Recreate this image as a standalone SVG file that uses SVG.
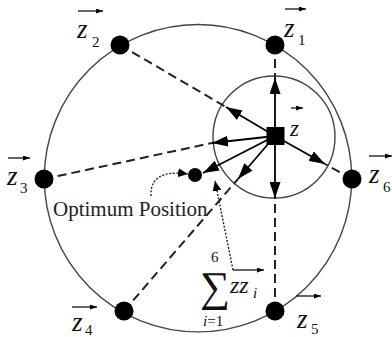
<svg xmlns="http://www.w3.org/2000/svg" width="392" height="337" viewBox="0 0 392 337">
<defs>
<marker id="ah" markerUnits="userSpaceOnUse" markerWidth="17" markerHeight="11" refX="16" refY="5.5" orient="auto"><path d="M0,0 L16,5.5 L0,11 z" fill="#000"/></marker>
<marker id="sm" markerUnits="userSpaceOnUse" markerWidth="7" markerHeight="5" refX="7" refY="2.5" orient="auto"><path d="M0,0 L7,2.5 L0,5 z" fill="#000"/></marker>
<marker id="dh" markerUnits="userSpaceOnUse" markerWidth="11" markerHeight="9" refX="10" refY="4.5" orient="auto"><path d="M0,0 L10,4.5 L0,9 z" fill="#000"/></marker>
<style>
.ring{fill:none;stroke:#444;stroke-width:1.4}
.dash{fill:none;stroke:#222;stroke-width:2;stroke-dasharray:9 5}
.arr{fill:none;stroke:#000;stroke-width:1.8;marker-end:url(#ah)}
.bar{fill:none;stroke:#000;stroke-width:1.2;marker-end:url(#sm)}
.dot{fill:none;stroke:#222;stroke-width:1.4;stroke-dasharray:2 1.6}
.node{fill:#000}
.zi{font-family:"Liberation Serif",serif;font-style:italic;font-size:27px;fill:#111}
.sub{font-family:"Liberation Serif",serif;font-size:15px;fill:#111}
.lbl{font-family:"Liberation Serif",serif;font-size:21px;fill:#222}
</style>
</defs>
<circle class="ring" cx="198" cy="178.2" r="153.7"/>
<circle class="ring" cx="274" cy="137" r="61"/>
<g id="connectors">
<line class="dash" x1="275" y1="45" x2="275" y2="80"/>
<line class="dash" x1="120" y1="45" x2="226" y2="107"/>
<line class="dash" x1="44" y1="179" x2="212" y2="143"/>
<line class="dash" x1="124" y1="311" x2="238" y2="179"/>
<line class="dash" x1="275" y1="311" x2="275" y2="198"/>
<line class="dash" x1="352" y1="179" x2="325" y2="164"/>
<line class="arr" x1="275" y1="136" x2="275" y2="78"/>
<line class="arr" x1="275" y1="136" x2="275" y2="198"/>
<line class="arr" x1="275" y1="136" x2="226" y2="107"/>
<line class="arr" x1="275" y1="136" x2="212" y2="143"/>
<line class="arr" x1="275" y1="136" x2="238" y2="179"/>
<line class="arr" x1="275" y1="136" x2="325" y2="164"/>
<line class="arr" x1="275" y1="136" x2="203" y2="173"/>
<path class="dot" d="M151,196 C150,180 160,170 188,174" marker-end="url(#dh)"/>
<path class="dot" d="M233,270 L215,181" marker-end="url(#dh)"/>
</g>
<g id="z">
<rect x="266.5" y="127" width="18" height="18" fill="#000"/>
<line class="bar" x1="291" y1="108" x2="303" y2="108"/>
<text class="zi" x="290" y="136" style="font-size:23px">z</text>
</g>
<g id="opt">
<circle class="node" cx="195" cy="175" r="7"/>
<text class="lbl" x="53" y="216">Optimum Position</text>
</g>
<g id="z1">
<circle class="node" cx="275" cy="45" r="9.5"/>
<line class="bar" x1="285" y1="9" x2="306" y2="9"/>
<text class="zi" x="284" y="37">z</text><text class="sub" x="298" y="45">1</text>
</g>
<g id="z2">
<circle class="node" cx="120" cy="45" r="9.5"/>
<line class="bar" x1="78" y1="11" x2="103" y2="11"/>
<text class="zi" x="77" y="38">z</text><text class="sub" x="92" y="47">2</text>
</g>
<g id="z3">
<circle class="node" cx="44" cy="179" r="9.5"/>
<line class="bar" x1="8" y1="158" x2="30" y2="158"/>
<text class="zi" x="7" y="185">z</text><text class="sub" x="20" y="193">3</text>
</g>
<g id="z4">
<circle class="node" cx="124" cy="311" r="9.5"/>
<line class="bar" x1="72" y1="307" x2="97" y2="307"/>
<text class="zi" x="72" y="331">z</text><text class="sub" x="85" y="335">4</text>
</g>
<g id="z5">
<circle class="node" cx="275" cy="311" r="9.5"/>
<line class="bar" x1="296" y1="296" x2="321" y2="296"/>
<text class="zi" x="297" y="328">z</text><text class="sub" x="311" y="334">5</text>
</g>
<g id="z6">
<circle class="node" cx="352" cy="179" r="9.5"/>
<line class="bar" x1="369" y1="156" x2="392" y2="156"/>
<text class="zi" x="369" y="183">z</text><text class="sub" x="383" y="192">6</text>
</g>
<g id="sum">
<text x="200" y="301" style="font-family:'Liberation Serif',serif;font-size:42px;fill:#111">∑</text>
<text class="sub" x="211" y="262">6</text>
<text class="sub" x="203" y="326"><tspan font-style="italic">i</tspan>=1</text>
<line class="bar" x1="233" y1="270" x2="264" y2="270"/>
<text class="zi" x="230" y="293" style="font-size:24px">zz</text>
<text class="sub" x="253" y="298" font-style="italic">i</text>
</g>
</svg>
